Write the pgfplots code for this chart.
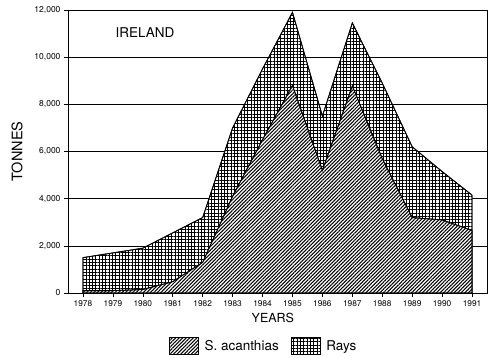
\documentclass[border=0pt]{standalone}
\usepackage{fontspec}
\setmainfont{TeX Gyre Heros}
\usepackage{pgfplots}
\pgfplotsset{compat=1.18}
\usetikzlibrary{patterns.meta}
\pgfplotsset{
  swatch/.style={legend image code/.code={\draw[##1] (0pt,-8.5pt) rectangle (29pt,8.5pt);}},
  sqpat/.style={pattern={Lines[distance=2.5pt, angle=45, line width=1.05pt]}},
  rayspat/.style={pattern={Hatch[distance=3.3pt, angle=0, line width=0.55pt]}},
}
\begin{document}
\begin{tikzpicture}
\begin{axis}[
  scale only axis, width=419pt, height=283pt,
  xmin=1977.5, xmax=1991.5, ymin=0, ymax=12000,
  xtick={1978,1979,...,1991}, ytick={0,2000,...,12000},
  /pgf/number format/assume math mode=true,
  scaled y ticks=false,
  xticklabel style={font=\fontsize{8.3}{8}\selectfont, /pgf/number format/1000 sep={}},
  yticklabel style={font=\fontsize{8.5}{8}\selectfont, /pgf/number format/1000 sep={,}},
  ymajorgrids, grid style={black, line width=0.6pt},
  tick align=outside, major tick length=4pt, tick pos=left,
  tick style={black, line width=0.6pt},
  axis line style={line width=0.8pt},
  xlabel={YEARS}, ylabel={TONNES},
  xlabel style={font=\fontsize{12.5}{12}\selectfont, at={(axis description cs:0.489,-0.088)}, anchor=center},
  ylabel style={font=\fontsize{14.5}{14}\selectfont, at={(axis description cs:-0.1217,0.5)}, anchor=center},
  legend style={at={(axis description cs:0.467,-0.187)}, anchor=center, draw=none, fill=none,
    font=\fontsize{13.5}{14}\selectfont,
    /tikz/every odd column/.append style={column sep=4pt},
    /tikz/every even column/.append style={column sep=10pt}},
  legend columns=2,
]
\addlegendimage{swatch, draw=black, line width=0.6pt, sqpat}
\addlegendentry{S. acanthias}
\addlegendimage{swatch, draw=black, line width=0.6pt, rayspat}
\addlegendentry{Rays}

% Rays (upper boundary, cumulative total)
\addplot[draw=black, line width=0.8pt, preaction={fill=white}, rayspat, forget plot] coordinates {
 (1978,1500) (1979,1700) (1980,1900) (1981,2550) (1982,3200) (1983,7000) (1984,9500)
 (1985,11900) (1986,7500) (1987,11450) (1988,8900) (1989,6200) (1990,5150) (1991,4150)
} \closedcycle;
% S. acanthias
\addplot[draw=black, line width=0.8pt, preaction={fill=white}, sqpat, forget plot] coordinates {
 (1978,100) (1979,100) (1980,150) (1981,480) (1982,1300) (1983,4100) (1984,6500)
 (1985,8800) (1986,5200) (1987,8780) (1988,5700) (1989,3200) (1990,3100) (1991,2650)
} \closedcycle;

\node[font=\fontsize{13.5}{14}\selectfont] at (axis cs:1980.07,11050) {IRELAND};
\end{axis}
\pgfresetboundingbox
\useasboundingbox (-68pt,-65pt) rectangle (432pt,293pt);
\end{tikzpicture}
\end{document}
